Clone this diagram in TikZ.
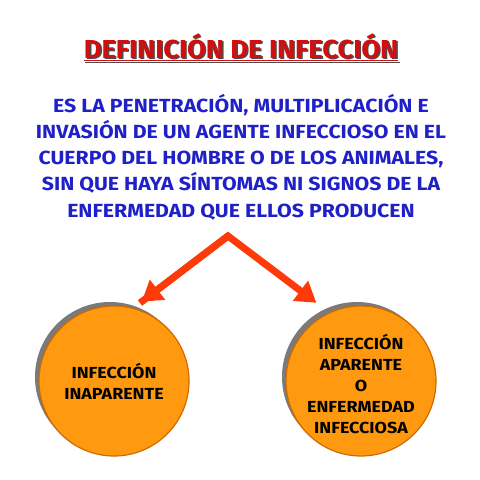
\documentclass[tikz,border=0pt]{standalone}
\usepackage{fontspec}
\setmainfont{Fira Sans}
\newfontfamily\widefont[FakeStretch=1.12]{Fira Sans}
\newfontfamily\ttlfont[FakeStretch=1.05]{Fira Sans}
\usetikzlibrary{arrows.meta}
\definecolor{ttlred}{HTML}{D01010}
\definecolor{bodyblue}{HTML}{2020C8}
\definecolor{orfill}{HTML}{FF9A10}
\definecolor{ordraw}{HTML}{D06A00}
\definecolor{arrred}{HTML}{FF3A0A}
\definecolor{shgray}{HTML}{7A7A7A}
\newcommand{\ttltext}{\underline{DEFINICIÓN DE INFECCIÓN}}
\tikzset{
  ttl/.style={font=\ttlfont\fontsize{26}{30}\selectfont\bfseries, inner sep=0pt},
  bodytxt/.style={font=\widefont\fontsize{19}{26.3}\selectfont\bfseries, text=bodyblue, align=center, inner sep=0pt},
  ball/.style={circle, minimum size=150pt, fill=orfill, draw=ordraw, line width=1.2pt, inner sep=0pt},
  ballshadow/.style={circle, minimum size=150pt, fill=shgray, inner sep=0pt},
  balltxt/.style={font=\widefont\fontsize{16}{21}\selectfont\bfseries, align=center, text=black},
  bigarrow/.style={draw=arrred, line width=7pt, -{Triangle[width=24pt,length=20pt]}, shorten >=2pt}
}
\begin{document}
\begin{tikzpicture}[x=1pt,y=-1pt]
\useasboundingbox (0,0) rectangle (480,480);
\node[ttl, text=ttlred] (title) at (241,48) {\rlap{\hspace{1.5pt}\raisebox{-1.5pt}{\textcolor{black!70}{\ttltext}}}\ttltext};
\node[bodytxt] (body) at (241,157) {ES LA PENETRACIÓN, MULTIPLICACIÓN E\\INVASIÓN DE UN AGENTE INFECCIOSO EN EL\\CUERPO DEL HOMBRE O DE LOS ANIMALES,\\SIN QUE HAYA SÍNTOMAS NI SIGNOS DE LA\\ENFERMEDAD QUE ELLOS PRODUCEN};
\node[ballshadow] at (110,377) {};
\node[ball] (left) at (114,381) {};
\node[balltxt] at (left.center) {INFECCIÓN\\INAPARENTE};
\node[ballshadow] at (357,377) {};
\node[ball] (right) at (361,381) {};
\node[balltxt] at ([yshift=-3pt]right.center) {INFECCIÓN\\APARENTE\\O\\ENFERMEDAD\\INFECCIOSA};
\coordinate (apex) at (228,236);
\coordinate (ltip) at (140,303);
\coordinate (rtip) at (318,304);
\draw[bigarrow, line join=miter] (ltip) -- (apex) -- (rtip);
\draw[bigarrow] (apex) -- (ltip);
\end{tikzpicture}
\end{document}
